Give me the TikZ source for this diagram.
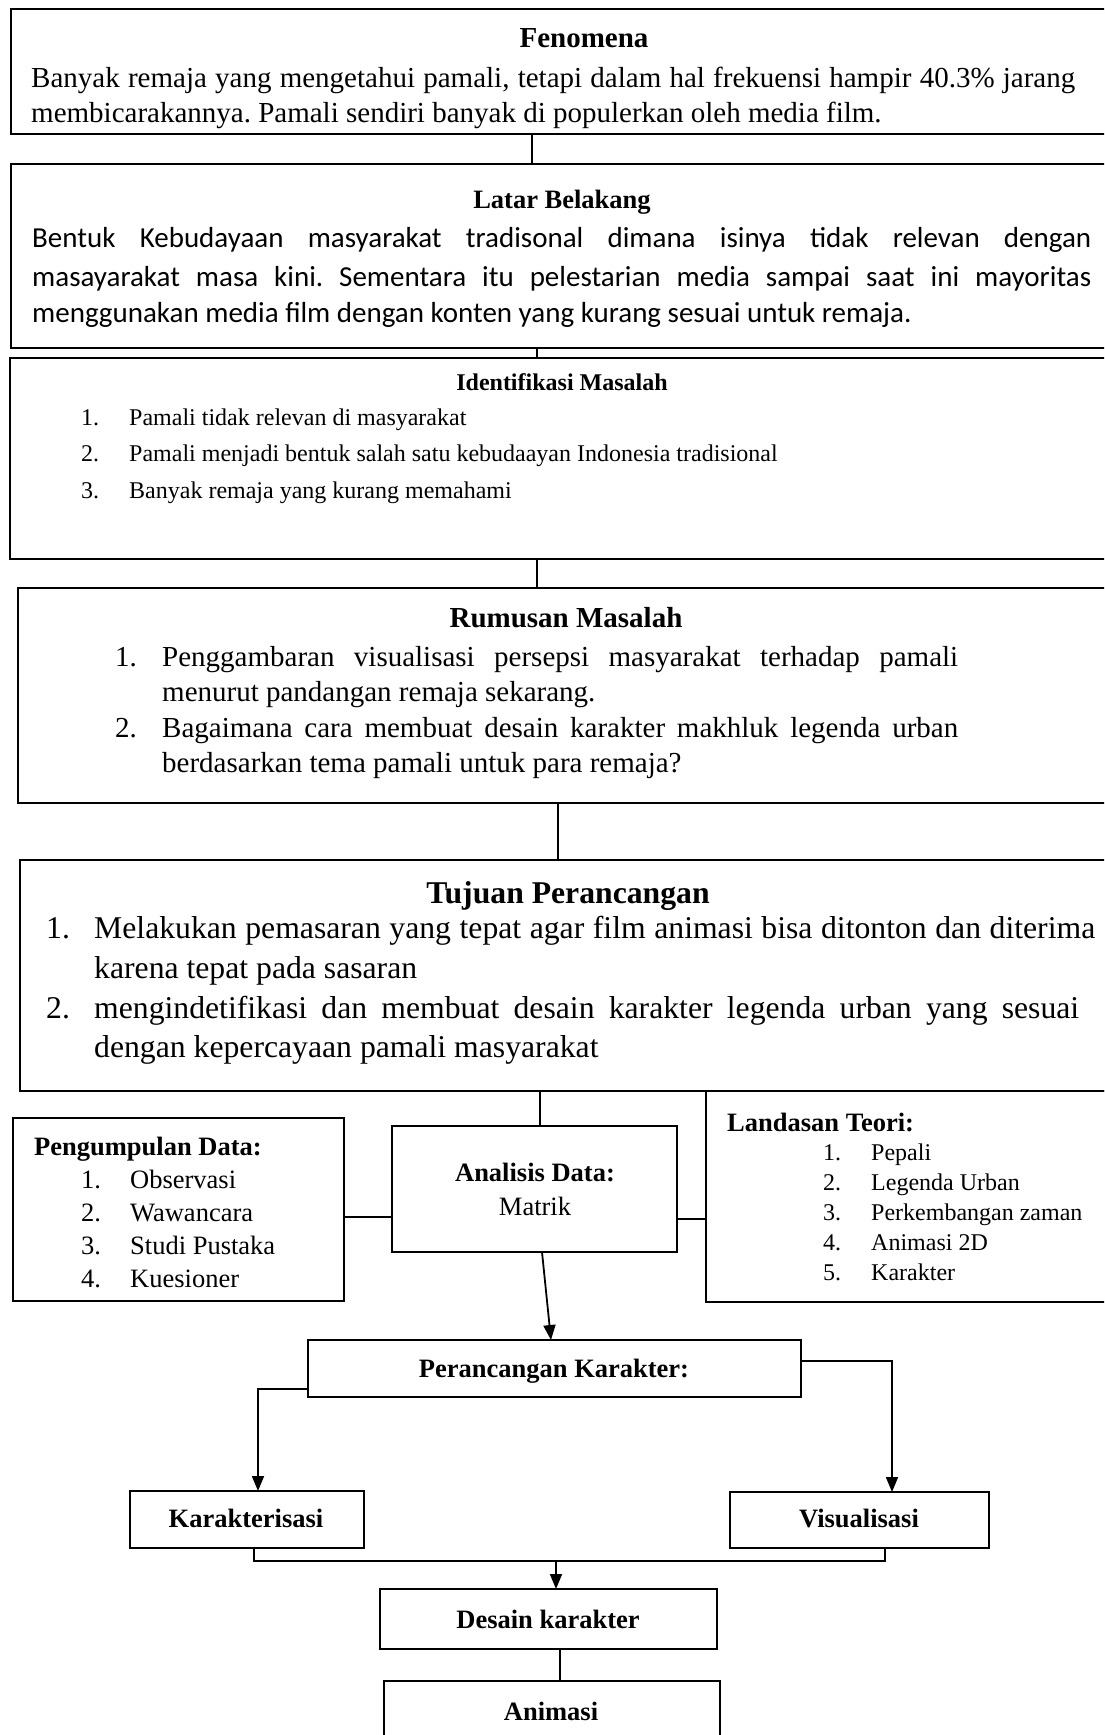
\documentclass[tikz,border=0pt]{standalone}
\usepackage{fontspec}
\setmainfont{Liberation Serif}
\newfontfamily\calibfont{Carlito}
\usetikzlibrary{fit,arrows.meta}
\newcommand\fsz[2]{\fontsize{#1}{#2}\selectfont}
\newcommand\jline[2]{\makebox[#1][s]{#2}}
\frenchspacing
\begin{document}
\begin{tikzpicture}[x=1pt,y=-1pt,
  box/.style={draw, line width=2.6pt, inner sep=0pt, outer sep=0pt},
  conn/.style={line width=1.8pt},
  arr/.style={line width=1.8pt, -{Triangle[length=15pt,width=12pt]}},
  txt/.style={inner sep=0pt, anchor=base west},
  ctr/.style={inner sep=0pt, anchor=base},
]
\useasboundingbox (0,0) rectangle (1104,1735);
\clip (0,0) rectangle (1104,1735);
\fill[white] (0,0) rectangle (1104,1735);

% boxes
\node[box, fit={(11,9)(1115,134)}] (fen) {};
\node[box, fit={(11,164)(1115,348)}] (lat) {};
\node[box, fit={(10,358)(1115,559)}] (iden) {};
\node[box, fit={(18,588)(1115,803)}] (rum) {};
\node[box, fit={(20,860)(1115,1091)}] (tuj) {};
\node[box, fit={(13,1118)(344,1301)}] (peng) {};
\node[box, fit={(392,1126)(677,1252)}] (ana) {};
\node[box, fit={(706,1091)(1115,1302)}] (lan) {};
\node[box, fit={(308,1340)(801,1397)}] (per) {};
\node[box, fit={(130,1491)(364,1548)}] (kar) {};
\node[box, fit={(730,1492)(989,1548)}] (vis) {};
\node[box, fit={(380,1589)(717,1649)}] (des) {};
\node[box, fit={(384,1681)(720,1750)}] (ani) {};

% Fenomena
\node[ctr] (fenT) at (584,47) {\fsz{29}{35}\bfseries Fenomena};
\node[txt] (fen1) at (31,87) {\fsz{29}{35}\jline{1044pt}{Banyak remaja yang mengetahui pamali, tetapi dalam hal frekuensi hampir 40.3\% jarang}};
\node[txt] (fen2) at (31,122) {\fsz{29}{35}membicarakannya. Pamali sendiri banyak di populerkan oleh media film.};

% Latar Belakang
\node[ctr] (latT) at (562,208) {\fsz{26.5}{32}\bfseries Latar Belakang};
\node[txt] (lat1) at (32,247) {\calibfont\fsz{29}{38}\jline{1059pt}{Bentuk Kebudayaan masyarakat tradisonal dimana isinya tidak relevan dengan}};
\node[txt] (lat2) at (32,286) {\calibfont\fsz{29}{38}\jline{1059pt}{masayarakat masa kini. Sementara itu pelestarian media sampai saat ini mayoritas}};
\node[txt] (lat3) at (32,322) {\calibfont\fsz{29}{38}menggunakan media film dengan konten yang kurang sesuai untuk remaja.};

% Identifikasi Masalah
\node[ctr] (idT) at (562,390) {\fsz{24}{30}\bfseries Identifikasi Masalah};
\node[txt] (idn1) at (81,425) {\fsz{24}{30}1.};
\node[txt] (id1) at (129,425) {\fsz{24}{30}Pamali tidak relevan di masyarakat};
\node[txt] (idn2) at (81,461) {\fsz{24}{30}2.};
\node[txt] (id2) at (129,461) {\fsz{24}{30}Pamali menjadi bentuk salah satu kebudaayan Indonesia tradisional};
\node[txt] (idn3) at (81,498) {\fsz{24}{30}3.};
\node[txt] (id3) at (129,498) {\fsz{24}{30}Banyak remaja yang kurang memahami};

% Rumusan Masalah
\node[ctr] (rumT) at (566,627) {\fsz{29}{35}\bfseries Rumusan Masalah};
\node[txt] (rumn1) at (115,666) {\fsz{29}{35}1.};
\node[txt] (rum1) at (162,666) {\fsz{29}{35}\jline{796pt}{Penggambaran visualisasi persepsi masyarakat terhadap pamali}};
\node[txt] (rum2) at (162,701) {\fsz{29}{35}menurut pandangan remaja sekarang.};
\node[txt] (rumn2) at (115,737) {\fsz{29}{35}2.};
\node[txt] (rum3) at (162,737) {\fsz{29}{35}\jline{796pt}{Bagaimana cara membuat desain karakter makhluk legenda urban}};
\node[txt] (rum4) at (162,772) {\fsz{29}{35}berdasarkan tema pamali untuk para remaja?};

% Tujuan Perancangan
\node[ctr] (tujT) at (568,903) {\fsz{31.7}{40}\bfseries Tujuan Perancangan};
\node[txt] (tujn1) at (46,938) {\fsz{31.7}{40}1.};
\node[txt] (tuj1) at (94,938) {\fsz{31.7}{40}\jline{1001pt}{Melakukan pemasaran yang tepat agar film animasi bisa ditonton dan diterima}};
\node[txt] (tuj2) at (94,978) {\fsz{31.7}{40}karena tepat pada sasaran};
\node[txt] (tujn2) at (46,1018) {\fsz{31.7}{40}2.};
\node[txt] (tuj3) at (94,1018) {\fsz{31.7}{40}\jline{985pt}{mengindetifikasi dan membuat desain karakter legenda urban yang sesuai}};
\node[txt] (tuj4) at (94,1057) {\fsz{31.7}{40}dengan kepercayaan pamali masyarakat};

% Pengumpulan Data
\node[txt] (pengT) at (34,1155) {\fsz{26.5}{33}\bfseries Pengumpulan Data:};
\node[txt] (pgn1) at (81,1188) {\fsz{26.5}{33}1.};
\node[txt] (pg1) at (130,1188) {\fsz{26.5}{33}Observasi};
\node[txt] (pgn2) at (81,1221) {\fsz{26.5}{33}2.};
\node[txt] (pg2) at (130,1221) {\fsz{26.5}{33}Wawancara};
\node[txt] (pgn3) at (81,1254) {\fsz{26.5}{33}3.};
\node[txt] (pg3) at (130,1254) {\fsz{26.5}{33}Studi Pustaka};
\node[txt] (pgn4) at (81,1287) {\fsz{26.5}{33}4.};
\node[txt] (pg4) at (130,1287) {\fsz{26.5}{33}Kuesioner};

% Analisis Data
\node[ctr] (anaT) at (535,1181) {\fsz{26.5}{33}\bfseries Analisis Data:};
\node[ctr] (ana1) at (535,1215) {\fsz{26.5}{33}Matrik};

% Landasan Teori
\node[txt] (lanT) at (727,1131) {\fsz{26.5}{33}\bfseries Landasan Teori:};
\node[txt] (lnn1) at (823,1160) {\fsz{24}{30}1.};
\node[txt] (ln1) at (871,1160) {\fsz{24}{30}Pepali};
\node[txt] (lnn2) at (823,1190) {\fsz{24}{30}2.};
\node[txt] (ln2) at (871,1190) {\fsz{24}{30}Legenda Urban};
\node[txt] (lnn3) at (823,1220) {\fsz{24}{30}3.};
\node[txt] (ln3) at (871,1220) {\fsz{24}{30}Perkembangan zaman};
\node[txt] (lnn4) at (823,1250) {\fsz{24}{30}4.};
\node[txt] (ln4) at (871,1250) {\fsz{24}{30}Animasi 2D};
\node[txt] (lnn5) at (823,1280) {\fsz{24}{30}5.};
\node[txt] (ln5) at (871,1280) {\fsz{24}{30}Karakter};

% lower boxes text
\node[ctr] (perT) at (554,1377) {\fsz{26.5}{33}\bfseries Perancangan Karakter:};
\node[ctr] (karT) at (246,1527) {\fsz{26.5}{33}\bfseries Karakterisasi};
\node[ctr] (visT) at (859,1527) {\fsz{26.5}{33}\bfseries Visualisasi};
\node[ctr] (desT) at (548,1628) {\fsz{26.5}{33}\bfseries Desain karakter};
\node[ctr] (aniT) at (551,1720) {\fsz{26.5}{33}\bfseries Animasi};

% connectors
\draw[conn] (532,0 |- fen.south) -- (532,0 |- lat.north);
\draw[conn] (537,0 |- lat.south) -- (537,0 |- iden.north);
\draw[conn] (537,0 |- iden.south) -- (537,0 |- rum.north);
\draw[conn] (558,0 |- rum.south) -- (558,0 |- tuj.north);
\draw[conn] (540,0 |- tuj.south) -- (540,0 |- ana.north);
\draw[conn] (peng.east |- 0,1217) -- (ana.west |- 0,1217);
\draw[conn] (ana.east |- 0,1219) -- (lan.west |- 0,1219);
\draw[arr] (542,0 |- ana.south) -- (551,0 |- per.north);
\draw[arr] (per.west |- 0,1389) -| (258,0 |- kar.north);
\draw[arr] (per.east |- 0,1361) -| (892,0 |- vis.north);
\coordinate (mrg) at (556,1561);
\draw[conn] (254,0 |- kar.south) |- (mrg) -| (885,0 |- vis.south);
\draw[arr] (mrg) -- (556,0 |- des.north);
\draw[conn] (560,0 |- des.south) -- (560,0 |- ani.north);
\end{tikzpicture}
\end{document}
